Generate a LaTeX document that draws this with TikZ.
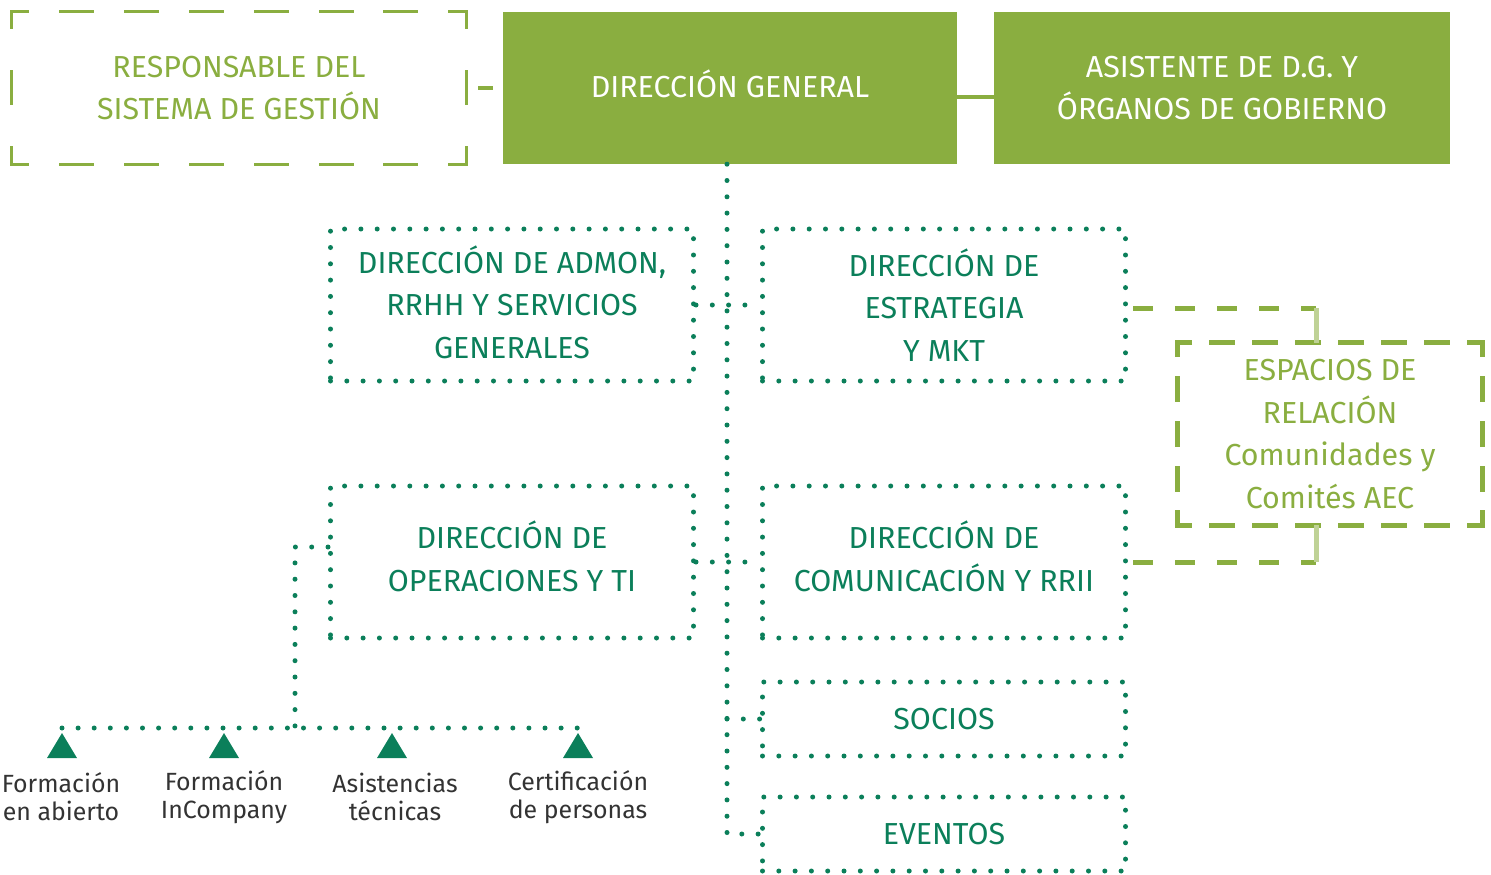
\documentclass[tikz,border=0pt]{standalone}
\usepackage{fontspec}
\setmainfont{Fira Sans}
\usetikzlibrary{positioning}

\definecolor{aecgreen}{HTML}{8AAE40}
\definecolor{aecdark}{HTML}{0B7F5A}
\definecolor{labelgray}{HTML}{333333}

% raises a node's text by half the given amount
\newcommand\textlift[1]{\rule[-#1]{0pt}{#1}}

\tikzset{
  boxtext/.style={align=center, inner sep=0pt, font=\fontsize{30.5}{43}\selectfont},
  solidbox/.style={boxtext, fill=aecgreen, text=white, minimum width=454bp, minimum height=152bp},
  dotline/.style={draw=aecdark, line width=5bp, line cap=round, dash pattern=on 0bp off 16.3bp},
  dotbox/.style={boxtext, dotline, text=aecdark, minimum width=363bp, minimum height=#1},
  dotbox/.default=152bp,
  respdash/.style={draw=aecgreen, line width=3bp, line cap=rect, dash pattern=on 32bp off #1, dash phase=16bp},
  espdash/.style={draw=aecgreen, line width=5bp, line cap=rect, dash pattern=on 21bp off #1, dash phase=9bp},
  linkdash/.style={draw=aecgreen, line width=5bp, dash pattern=on 20bp off 22bp, dash phase=37bp},
  servlabel/.style={align=center, inner sep=0pt, text=labelgray, font=\fontsize{25}{28}\selectfont}
}

\begin{document}
\begin{tikzpicture}[x=1bp, y=-1bp]
  \useasboundingbox (0,0) rectangle (1491,874);

  % top row
  \node[boxtext, text=aecgreen, minimum width=454bp, minimum height=152bp] (resp) at (239,88) {RESPONSABLE DEL\\SISTEMA DE GESTIÓN};
  \node[solidbox] (dg) at (730,88) {DIRECCIÓN GENERAL\textlift{8bp}};
  \node[solidbox, minimum width=456bp] (asist) at (1222,88) {ASISTENTE DE D.G. Y\\ÓRGANOS DE GOBIERNO};

  \draw[respdash=32.86bp] (resp.north west) -- (resp.north east);
  \draw[respdash=32.86bp] (resp.south west) -- (resp.south east);
  \draw[respdash=44bp] (resp.north west) -- (resp.south west);
  \draw[respdash=44bp] (resp.north east) -- (resp.south east);

  \draw[aecgreen, line width=4bp, shorten <=12bp, shorten >=10bp] (resp.east) -- (dg.west);
  \draw[aecgreen, line width=4bp] ([yshift=-9bp]dg.east) -- ([yshift=-9bp]asist.west);

  % direcciones
  \node[dotbox] (admon) at (512,305) {DIRECCIÓN DE ADMON,\\RRHH Y SERVICIOS\\GENERALES\textlift{6bp}};
  \node[dotbox] (estrat) at (944,305) {DIRECCIÓN DE\\ESTRATEGIA\\Y MKT};
  \node[dotbox] (oper) at (512,562) {DIRECCIÓN DE\\OPERACIONES Y TI\textlift{12bp}};
  \node[dotbox] (comun) at (944,562) {DIRECCIÓN DE\\COMUNICACIÓN Y RRII\textlift{12bp}};
  \node[dotbox=74bp] (socios) at (944,719) {SOCIOS};
  \node[dotbox=74bp] (eventos) at (944,834) {EVENTOS};

  \draw[dotline] ([xshift=-3bp]dg.south) -- ([xshift=-3bp]dg.south |- eventos.west) -- (eventos.west);
  \draw[dotline] (admon.east) -- (estrat.west);
  \draw[dotline] (oper.east) -- (comun.west);
  \draw[dotline] ([xshift=-3bp]dg.south |- socios.west) -- (socios.west);

  % espacios de relacion
  \node[boxtext, text=aecgreen, minimum width=304bp, minimum height=182bp] (esp) at (1330,434) {ESPACIOS DE\\RELACIÓN\\Comunidades y\\Comités AEC};
  \draw[espdash=22bp] (esp.north west) -- (esp.north east);
  \draw[espdash=22bp] (esp.south west) -- (esp.south east);
  \draw[espdash=23.75bp] (esp.north west) -- (esp.south west);
  \draw[espdash=23.75bp] (esp.north east) -- (esp.south east);

  \coordinate (kneetop) at ([xshift=-14bp]esp.north);
  \coordinate (kneebot) at ([xshift=-14bp]esp.south);
  \draw[linkdash] ([yshift=-3bp]estrat.east) -- ([yshift=-3bp]estrat.east -| kneetop);
  \draw[aecgreen!55, line width=5bp] ([yshift=-3bp]estrat.east -| kneetop) -- (kneetop);
  \draw[linkdash] (comun.east) -- (comun.east -| kneebot);
  \draw[aecgreen!55, line width=5bp] (comun.east -| kneebot) -- (kneebot);

  % servicios de operaciones
  \coordinate (bus1) at (62,728);
  \coordinate (bus4) at (578,728);
  \coordinate (busdrop) at (295,728);
  \draw[dotline] ([yshift=15bp]oper.west) -| (busdrop);
  \draw[dotline, dash pattern=on 0bp off 16.1bp] (bus1) -- (bus4);
  \foreach \x in {62,224,392,578}
    \fill[aecdark] (\x-15,758) -- (\x+15,758) -- (\x,733) -- cycle;

  \node[servlabel] (lab1) at (61,797) {Formación\\en abierto};
  \node[servlabel] (lab2) at (224,797) {Formación\\InCompany};
  \node[servlabel] (lab3) at (395,797) {Asistencias\\técnicas};
  \node[servlabel] (lab4) at (578,797) {Certificación\\de personas};
\end{tikzpicture}
\end{document}
